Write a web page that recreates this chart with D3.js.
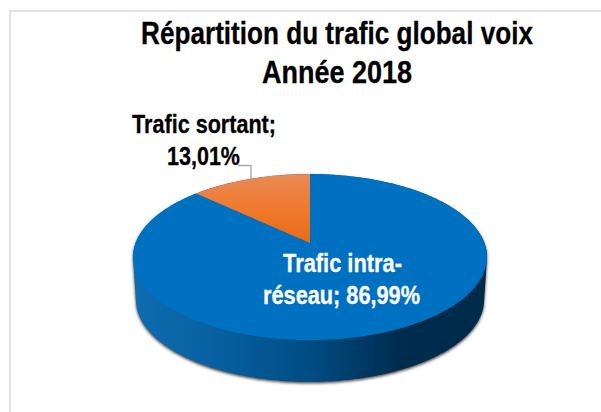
<!DOCTYPE html>
<html>
<head>
<meta charset="utf-8">
<script src="https://cdn.jsdelivr.net/npm/d3@7"></script>
<style>
  html, body { margin: 0; padding: 0; background: #fff; }
  svg { display: block; }
  text { font-family: "Liberation Sans", Arial, sans-serif; font-weight: bold; }
</style>
</head>
<body>
<div id="chart"></div>
<script>
const categories = ['Trafic intra-réseau', 'Trafic sortant'];
const values = [86.99, 13.01];
const titleLines = ['Répartition du trafic global voix', 'Année 2018'];
const sliceColors = ['#0070c0', 'url(#orangeGrad)'];

const width = 601;
const height = 412;

const svg = d3.select('#chart')
  .append('svg')
  .attr('width', width)
  .attr('height', height)
  .attr('viewBox', `0 0 ${width} ${height}`);

const defs = svg.append('defs');

const orangeGrad = defs.append('linearGradient')
  .attr('id', 'orangeGrad')
  .attr('x1', 0).attr('y1', 0).attr('x2', 0).attr('y2', 1);
orangeGrad.append('stop').attr('offset', '0%').attr('stop-color', '#e98a57');
orangeGrad.append('stop').attr('offset', '55%').attr('stop-color', '#f0782a');
orangeGrad.append('stop').attr('offset', '100%').attr('stop-color', '#e96c17');

const wallGrad = defs.append('linearGradient')
  .attr('id', 'wallGrad')
  .attr('x1', 0).attr('y1', 0).attr('x2', 1).attr('y2', 0);
wallGrad.append('stop').attr('offset', '0%').attr('stop-color', '#0f6cb0');
wallGrad.append('stop').attr('offset', '25%').attr('stop-color', '#075f9f');
wallGrad.append('stop').attr('offset', '50%').attr('stop-color', '#004c84');
wallGrad.append('stop').attr('offset', '75%').attr('stop-color', '#002c4e');
wallGrad.append('stop').attr('offset', '100%').attr('stop-color', '#002a49');

defs.append('filter')
  .attr('id', 'wallShadow')
  .attr('x', '-5%').attr('y', '-5%').attr('width', '110%').attr('height', '110%')
  .append('feGaussianBlur')
  .attr('stdDeviation', 1.6);

// frame: only the top and left edges show in the crop
svg.append('path')
  .attr('d', `M10,${height} V11 H${width}`)
  .attr('fill', 'none')
  .attr('stroke', '#e2e2e2')
  .attr('stroke-width', 2);

// perspective tilt of the disc, centre of pie sits above the centre of the ellipse
const tilt = 0.17;
const apexX = 310;
const apexY = 243;
const topScaleX = 174.4;
const topScaleY = 80.6;

function project(angle, scaleX, scaleY, dy) {
  const u = Math.sin(angle);
  const v = Math.cos(angle);
  const w = 1 + tilt * v;
  return [apexX + scaleX * u / w, apexY + dy - scaleY * v / w];
}

const pie = d3.pie().sort(null).value(d => d);
const slices = pie(values);
const ringAngles = d3.range(0, 2 * Math.PI, Math.PI / 180);

// side wall = hull of the top rim and a slightly narrower bottom rim
const topRing = ringAngles.map(a => project(a, topScaleX, topScaleY, 0));
const bottomRing = ringAngles.map(a => project(a, 171.5, 79.5, 43));
const wallPath = 'M' + d3.polygonHull(topRing.concat(bottomRing)).join('L') + 'Z';

svg.append('path')
  .attr('d', wallPath)
  .attr('fill', '#3a3a3a')
  .attr('transform', 'translate(0,1.5)')
  .attr('filter', 'url(#wallShadow)');

svg.append('path')
  .attr('d', wallPath)
  .attr('fill', 'url(#wallGrad)');

// top face
const sliceLine = d3.line();
svg.append('g')
  .selectAll('path')
  .data(slices)
  .enter()
  .append('path')
  .attr('d', d => {
    const pts = d3.range(d.startAngle, d.endAngle, Math.PI / 180).concat(d.endAngle)
      .map(a => project(a, topScaleX, topScaleY, 0));
    return sliceLine([[apexX, apexY]].concat(pts)) + 'Z';
  })
  .attr('fill', (d, i) => sliceColors[i]);

// leader for the small slice
svg.append('path')
  .attr('d', 'M238,165.5 H251 V180')
  .attr('fill', 'none')
  .attr('stroke', '#a6a6a6')
  .attr('stroke-width', 1.3);

const pct = v => v.toFixed(2).replace('.', ',') + '%';

// the source text is squeezed sideways, so scale each line to its measured width
function putText(str, x, y, size, len, color) {
  const t = svg.append('text')
    .attr('text-anchor', 'middle')
    .attr('font-size', size)
    .attr('fill', color)
    .attr('stroke', color)
    .attr('stroke-width', 0.3)
    .text(str);
  const sx = len / t.node().getComputedTextLength();
  t.attr('transform', `translate(${x},${y}) scale(${sx},1)`);
}

putText(titleLines[0], 337, 44, 31, 392, '#000');
putText(titleLines[1], 337, 82.5, 31, 150, '#000');

putText(categories[1] + ';', 204, 133, 26, 144, '#000');
putText(pct(values[1]), 203.5, 164.5, 26, 73, '#000');

const intraParts = categories[0].split('-');
putText(intraParts[0] + '-', 342.5, 272, 26, 119, '#fff');
putText(intraParts[1] + '; ' + pct(values[0]), 341.5, 304, 26, 157, '#fff');
</script>
</body>
</html>
